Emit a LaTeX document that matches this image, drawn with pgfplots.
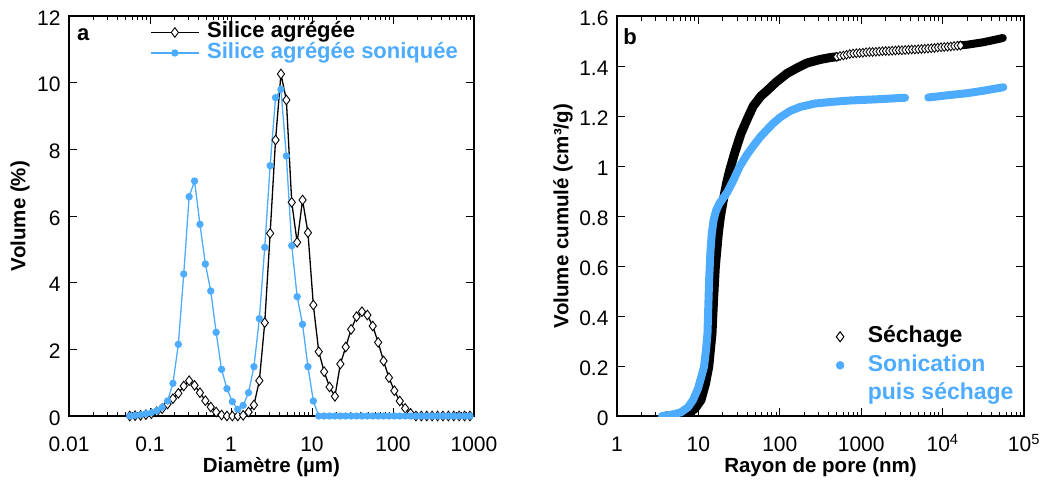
\documentclass[border=0pt]{standalone}
\usepackage{pgfplots}
\pgfplotsset{compat=1.18}
\usepackage{fontspec}
\setmainfont{Liberation Sans}
\definecolor{sblue}{RGB}{77,172,255}

\pgfplotstableread{
x black blue
0.05623 0.00 0.00
0.06556 0.01 0.02
0.07644 0.02 0.04
0.08913 0.04 0.07
0.10392 0.07 0.10
0.12115 0.13 0.16
0.14125 0.22 0.26
0.16469 0.36 0.45
0.19201 0.52 0.98
0.22387 0.68 2.15
0.26102 0.90 4.26
0.30433 1.06 6.58
0.35481 0.92 7.05
0.41368 0.70 5.75
0.48232 0.46 4.56
0.56234 0.27 3.75
0.65564 0.12 2.51
0.76442 0.03 1.40
0.89125 0.00 0.82
1.03912 0.00 0.43
1.21153 0.00 0.20
1.41254 0.02 0.32
1.64690 0.12 0.70
1.92015 0.33 1.48
2.23872 1.06 2.92
2.61016 2.80 5.06
3.04322 5.48 7.51
3.54813 8.28 9.55
4.13682 10.26 9.80
4.82318 9.48 7.80
5.62341 6.41 5.11
6.55642 5.21 3.58
7.64422 6.48 2.75
8.91251 5.50 1.48
10.3912 3.33 0.45
12.1153 1.93 0.00
14.1254 1.33 0.00
16.4690 0.87 0.00
19.2015 0.59 0.00
22.3872 1.56 0.00
26.1016 2.07 0.00
30.4322 2.60 0.00
35.4813 2.98 0.00
41.3682 3.13 0.00
48.2318 3.03 0.00
56.2341 2.70 0.00
65.5642 2.21 0.00
76.4422 1.65 0.00
89.1251 1.15 0.00
103.912 0.76 0.00
121.153 0.45 0.00
141.254 0.23 0.00
164.690 0.08 0.00
192.015 0.00 0.00
223.872 0.00 0.00
261.016 0.00 0.00
304.322 0.00 0.00
354.813 0.00 0.00
413.682 0.00 0.00
482.318 0.00 0.00
562.341 0.00 0.00
655.642 0.00 0.00
764.422 0.00 0.00
891.251 0.00 0.00
}\psdtable

\pgfplotstableread{
r v
4.00 0.000
7.45 0.010
9.08 0.030
10.76 0.064
12.22 0.130
13.39 0.197
14.69 0.331
15.34 0.464
16.14 0.597
17.57 0.731
18.68 0.800
20.23 0.864
22.15 0.930
24.10 0.980
27.76 1.050
33.35 1.130
40.10 1.190
47.20 1.240
58.70 1.280
69.00 1.300
89.80 1.335
122.5 1.370
162.6 1.392
216.0 1.412
312.0 1.426
420.0 1.434
504.0 1.437
}\blacksteep

\pgfplotstableread{
r v
501.2 1.437
549.5 1.440
602.6 1.442
660.7 1.445
724.4 1.448
794.3 1.450
871.0 1.451
955.0 1.452
1047 1.453
1148 1.455
1259 1.456
1380 1.456
1514 1.457
1660 1.458
1820 1.459
1995 1.460
2188 1.460
2399 1.461
2630 1.462
2884 1.463
3162 1.463
3467 1.464
3802 1.465
4169 1.466
4571 1.466
5012 1.467
5495 1.468
6026 1.469
6607 1.470
7244 1.471
7943 1.472
8710 1.474
9550 1.475
10470 1.476
11480 1.477
12590 1.478
13800 1.480
15140 1.481
16600 1.482
}\blackplateau

\pgfplotstableread{
r v
15850 1.482
19950 1.485
25120 1.490
31620 1.495
39810 1.502
50120 1.509
54950 1.512
}\blackend

\pgfplotstableread{
r v
3.57 0.000
4.74 0.005
6.11 0.015
7.45 0.035
8.59 0.064
9.89 0.110
10.92 0.160
11.72 0.197
12.40 0.264
12.93 0.331
13.12 0.400
13.31 0.464
13.49 0.530
13.77 0.597
14.09 0.664
14.61 0.731
15.40 0.785
16.50 0.822
18.10 0.850
20.20 0.872
22.60 0.895
26.60 0.940
32.40 1.000
39.50 1.045
47.20 1.080
57.10 1.115
69.00 1.144
82.50 1.170
100.5 1.194
133.3 1.220
177.0 1.236
270.0 1.250
454.0 1.257
728.0 1.262
1169 1.265
1853 1.268
2999 1.272
3453 1.273
}\bluea

\pgfplotstableread{
r v
6670 1.274
12330 1.284
19770 1.291
31620 1.301
55720 1.315
}\blueb

\begin{document}
\begin{tikzpicture}
\path[use as bounding box] (0pt,0pt) rectangle (1043pt,483pt);

\begin{axis}[
  xmode=log,
  scale only axis, height=400pt, width=405pt,
  at={(69pt,67pt)}, anchor=south west,
  axis line style={line width=1.2pt},
  every tick/.style={black, line width=0.9pt},
  major tick length=8pt, minor tick length=4.5pt,
  tick label style={font=\fontsize{21}{21}\selectfont},
  /pgf/number format/assume math mode=true,
  xticklabel style={anchor=base, yshift=-35.7pt},
  yticklabel style={xshift=-5pt, yshift=-2pt},
  label style={font=\fontsize{20.5}{20.5}\selectfont\bfseries},
  xlabel style={at={(axis description cs:0.5,-0.1275)}, anchor=center},
  ylabel style={at={(axis description cs:-0.121,0.5)}, anchor=center},
  xmin=0.01, xmax=1000, ymin=0, ymax=12,
  xtick={0.01,0.1,1,10,100,1000},
  xticklabels={0.01,0.1,1,10,100,1000},
  ytick={0,2,4,6,8,10,12},
  xlabel={Diamètre (µm)}, ylabel={Volume (\%)},
  legend style={draw=none, fill=none, at={(0.2,0.9855)}, anchor=north west,
    inner sep=0pt, row sep=-0.5pt, column sep=7.7pt,
    font=\fontsize{22}{22}\selectfont\bfseries,
    nodes={inner sep=0pt, text height=16pt, text depth=5pt}, cells={anchor=west}},
  legend image code/.code={\draw[mark repeat=2,mark phase=2] plot coordinates {(0pt,0pt) (24pt,0pt) (48pt,0pt)};},
]
\addplot[black, line width=1.3pt, mark=diamond*, mark size=4.8pt,
  mark options={fill=white, draw=black, line width=0.9pt, solid}] table[x=x, y=black] {\psdtable};
\addlegendentry{Silice agrégée}
\addplot[sblue, line width=1.3pt, mark=*, mark size=3pt,
  mark options={fill=sblue, draw=sblue}] table[x=x, y=blue] {\psdtable};
\addlegendentry{\textcolor{sblue}{Silice agrégée soniquée}}
\node[font=\fontsize{22}{22}\selectfont\bfseries] at (axis description cs:0.0353,0.9525) {a};
\end{axis}

\begin{axis}[
  xmode=log,
  scale only axis, height=400pt, width=407pt,
  at={(617pt,67pt)}, anchor=south west,
  axis line style={line width=1.2pt},
  every tick/.style={black, line width=0.9pt},
  major tick length=8pt, minor tick length=4.5pt,
  tick label style={font=\fontsize{21}{21}\selectfont},
  /pgf/number format/assume math mode=true,
  xticklabel style={anchor=base, yshift=-35.7pt},
  yticklabel style={xshift=-5pt, yshift=-2pt},
  label style={font=\fontsize{20.5}{20.5}\selectfont\bfseries},
  xlabel style={at={(axis description cs:0.5,-0.1275)}, anchor=center},
  ylabel style={at={(axis description cs:-0.1327,0.5)}, anchor=center},
  xmin=1, xmax=100000, ymin=0, ymax=1.6,
  xtick={1,10,100,1000,10000,100000},
  xticklabels={1,10,100,1000,10\textsuperscript{4},10\textsuperscript{5}},
  ytick={0,0.2,0.4,0.6,0.8,1,1.2,1.4,1.6},
  xlabel={Rayon de pore (nm)}, ylabel={Volume cumulé (cm³/g)},
  legend style={draw=none, fill=none, at={(0.528,0.226)}, anchor=north west,
    inner sep=0pt, row sep=6.5pt, column sep=23.7pt,
    font=\fontsize{23}{23}\selectfont\bfseries,
    nodes={inner sep=0pt, text height=17pt, text depth=5pt}, cells={anchor=west}},
  legend image code/.code={\draw[mark repeat=2,mark phase=2] plot coordinates {(0pt,0pt) (8pt,0pt) (16pt,0pt)};},
]
\addplot[forget plot, black, line width=9pt, line cap=round, line join=round] table[x=r, y=v] {\blacksteep};
\addplot[forget plot, black, line width=8pt, line cap=round, line join=round] table[x=r, y=v] {\blackend};
\addplot[forget plot, only marks, mark=diamond*, mark size=4.4pt,
  mark options={fill=white, draw=black, line width=0.8pt}] table[x=r, y=v] {\blackplateau};
\addplot[forget plot, sblue, line width=8pt, line cap=round, line join=round] table[x=r, y=v] {\bluea};
\addplot[forget plot, sblue, line width=8pt, line cap=round, line join=round] table[x=r, y=v] {\blueb};
\addlegendimage{only marks, mark=diamond, mark size=5pt, black, mark options={line width=1pt}}
\addlegendentry{Séchage}
\addlegendimage{only marks, mark=*, mark size=4pt, sblue, mark options={fill=sblue, draw=sblue}}
\addlegendentry{\textcolor{sblue}{Sonication}}
\addlegendimage{empty legend}
\addlegendentry{\textcolor{sblue}{puis séchage}}
\node[font=\fontsize{22}{22}\selectfont\bfseries] at (axis description cs:0.032,0.948) {b};
\end{axis}
\end{tikzpicture}
\end{document}
